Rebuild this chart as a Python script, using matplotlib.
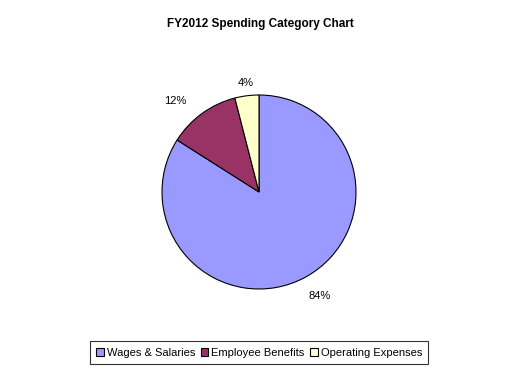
import matplotlib
matplotlib.use('Agg')
import matplotlib.pyplot as plt
import numpy as np

categories = ['Wages & Salaries', 'Employee Benefits', 'Operating Expenses']
values = [84, 12, 4]
colors = ['#9999FF', '#993366', '#FFFFCC']

plt.rcParams['font.family'] = ['Liberation Sans', 'DejaVu Sans']


def main():
    fig = plt.figure(figsize=(5.2, 3.73), dpi=100)
    # pie axes placed so the circle sits where it does in the original
    w = 260 / 520
    h = 260 / 373
    cx = 259 / 520
    cy = (373 - 192) / 373
    ax = fig.add_axes([cx - w / 2, cy - h / 2, w, h])

    wedges, texts, autotexts = ax.pie(
        values, colors=colors, startangle=90, counterclock=False,
        autopct='%1.0f%%', pctdistance=1.2,
        wedgeprops=dict(edgecolor='black', linewidth=0.8),
        textprops=dict(fontsize=8))
    # nudge the labels a bit, like the original does
    dists = [1.22, 1.16, 1.13]
    shifts = [4, -18, 0]
    for wd, t, d, s in zip(wedges, autotexts, dists, shifts):
        mid = np.deg2rad((wd.theta1 + wd.theta2) / 2)
        t.set_position((d * np.cos(mid) + s / 97, d * np.sin(mid)))
    lim = 130 / 97
    ax.set_xlim(-lim, lim)
    ax.set_ylim(-lim, lim)
    ax.set_aspect('equal')
    ax.axis('off')

    fig.text(0.5, 1 - 24 / 373, 'FY2012 Spending Category Chart',
             ha='center', va='center', fontsize=8.5, fontweight='bold')

    leg = fig.legend(wedges, categories, loc='center',
                     bbox_to_anchor=(259 / 520, 1 - 352.5 / 373), ncol=3,
                     fontsize=8, frameon=True, fancybox=False,
                     handlelength=0.7, handleheight=0.7, handletextpad=0.25,
                     columnspacing=0.5, borderpad=0.55, borderaxespad=0,
                     edgecolor='black')
    leg.get_frame().set_linewidth(0.8)

    fig.savefig('out.png', dpi=100)


if __name__ == '__main__':
    main()
